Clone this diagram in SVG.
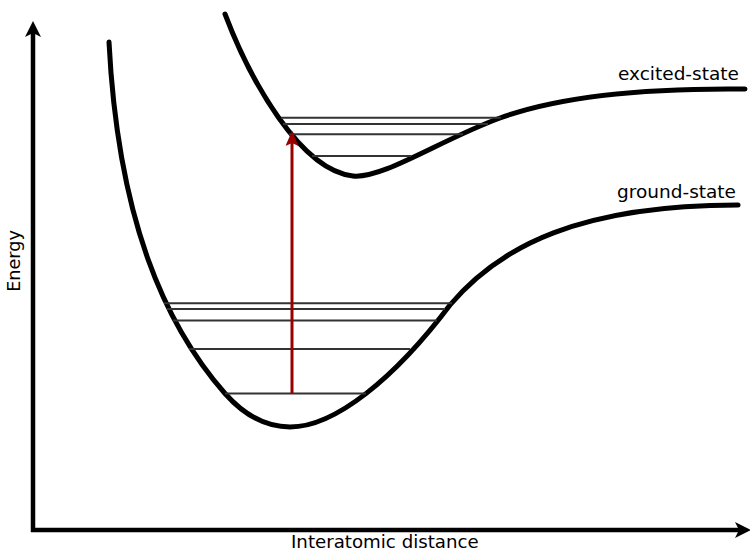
<svg xmlns="http://www.w3.org/2000/svg" width="750" height="554" viewBox="0 0 750 554">
<style>
.axis{stroke:#000;stroke-width:4.5;fill:none}
.curve{stroke:#000;stroke-width:5;fill:none;stroke-linecap:round;stroke-linejoin:round}
.level{stroke:#333;stroke-width:2;fill:none}
.lbl{font-family:"DejaVu Sans","Liberation Sans",sans-serif;font-size:18.5px;fill:#000}
</style>
<defs>
<marker id="axisHead" markerUnits="userSpaceOnUse" viewBox="0 0 16 16" markerWidth="16" markerHeight="16" refX="4" refY="8" orient="auto">
<path d="M0,0 L16,8 L0,16 L4,8 Z" fill="#000"/>
</marker>
<marker id="redHead" markerUnits="userSpaceOnUse" viewBox="0 0 15 13" markerWidth="15" markerHeight="13" refX="3" refY="6.5" orient="auto">
<path d="M0,0 L15,6.5 L0,13 L3,6.5 Z" fill="#990000"/>
</marker>
</defs>
<g id="axes">
<path class="axis" d="M33,532 L33,33" marker-end="url(#axisHead)"/>
<path class="axis" d="M31,530 L739,530" marker-end="url(#axisHead)"/>
</g>
<g id="ground-state">
<path class="curve" d="M109,42 C118,220 165,325 225,393.5 C245,416 268,427 290,427 C335,427 395,378 450,305 C500,246 580,205 738,205"/>
<path class="level" d="M164,303.3 H452 M167,309 H445 M173,320.5 H437 M189,349 H410 M225,393.5 H366"/>
</g>
<g id="excited-state">
<path class="curve" d="M225,14 C250,80 300,170 353,176 C383,179 440,140 500,118 C560,96 650,88 745,89"/>
<path class="level" d="M281,117.7 H501 M283,124 H488 M289,134.3 H463 M312,156 H411"/>
</g>
<g id="connectors">
<path d="M292,393 L292,143" stroke="#990000" stroke-width="3" fill="none" marker-end="url(#redHead)"/>
</g>
<g id="labels">
<text class="lbl" x="618" y="80">excited-state</text>
<text class="lbl" x="617" y="198">ground-state</text>
<text class="lbl" x="291" y="548" style="font-size:18.2px">Interatomic distance</text>
<text class="lbl" transform="translate(19.5,261) rotate(-90)" text-anchor="middle" style="font-size:17.6px">Energy</text>
</g>
</svg>
